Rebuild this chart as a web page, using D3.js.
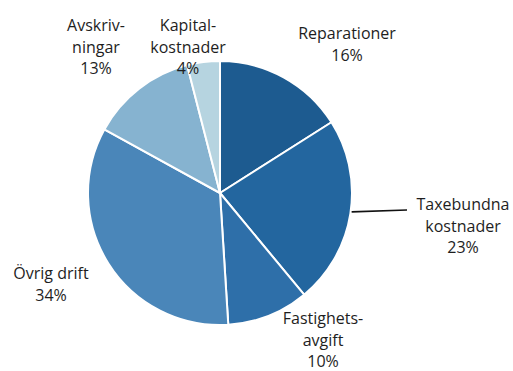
<!DOCTYPE html>
<html><head><meta charset="utf-8">
<script src="https://cdn.jsdelivr.net/npm/d3@7"></script>
<style>html,body{margin:0;padding:0;background:#fff;}svg{display:block;}</style>
</head><body>
<script>
const categories = ["Reparationer", "Taxebundna kostnader", "Fastighetsavgift", "Övrig drift", "Avskrivningar", "Kapitalkostnader"];
const values = [16, 23, 10, 34, 13, 4];
const labelLines = [
  ["Reparationer", "16%"],
  ["Taxebundna", "kostnader", "23%"],
  ["Fastighets-", "avgift", "10%"],
  ["Övrig drift", "34%"],
  ["Avskriv-", "ningar", "13%"],
  ["Kapital-", "kostnader", "4%"]
];
const colors = ["#1d5b90", "#23669f", "#2e6fa9", "#4a86b9", "#86b3d0", "#b6d4e0"];
// label anchor offsets from pie centre (x, first baseline y)
const labelAnchors = [[127, -154], [243, 17], [103, 131], [-169, 86], [-124, -162], [-32, -162]];

const W = 513, H = 371, cx = 220, cy = 193, R = 132;
const svg = d3.select("body").append("svg").attr("width", W).attr("height", H);
const g = svg.append("g").attr("transform", `translate(${cx},${cy})`);

const pie = d3.pie().sort(null).value(d => d);
const arc = d3.arc().innerRadius(0).outerRadius(R);
const arcs = pie(values);

g.selectAll("path").data(arcs).join("path")
  .attr("d", arc)
  .attr("fill", (d, i) => colors[i])
  .attr("stroke", "#fff")
  .attr("stroke-width", 2)
  .attr("stroke-linejoin", "round");

// leader line for Taxebundna
const a1 = arcs[1];
const mid = (a1.startAngle + a1.endAngle) / 2;
const lead = [Math.sin(1.713) * (R + 1), -Math.cos(1.713) * (R + 1)];
g.append("line")
  .attr("x1", lead[0]).attr("y1", lead[1])
  .attr("x2", 187).attr("y2", 17)
  .attr("stroke", "#111").attr("stroke-width", 1.6);

const lg = g.selectAll("text.lbl").data(labelLines).join("text")
  .attr("class", "lbl")
  .attr("text-anchor", "middle")
  .attr("font-family", "'Open Sans', sans-serif")
  .attr("font-size", 16)
  .attr("fill", "#1e1e1e")
  .attr("transform", (d, i) => `translate(${labelAnchors[i][0]},${labelAnchors[i][1]})`);
lg.selectAll("tspan").data(d => d).join("tspan")
  .attr("x", 0)
  .attr("y", (d, j) => j * 21.5)
  .text(d => d);
</script>
</body></html>
